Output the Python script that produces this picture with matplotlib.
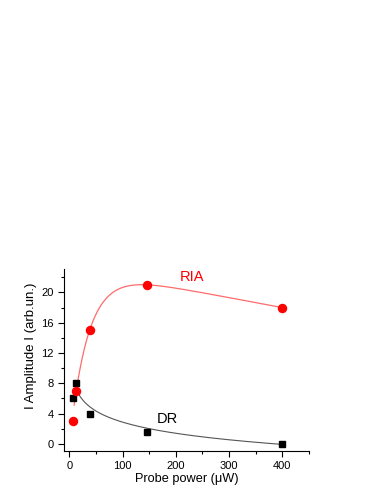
import numpy as np
import matplotlib
matplotlib.use("Agg")
import matplotlib.pyplot as plt
from matplotlib.ticker import MultipleLocator

plt.rcParams["font.family"] = ["Liberation Sans", "DejaVu Sans"]

# measured points
ria_power = [7, 13, 38, 145, 400]
ria_amp = [3, 7, 15, 21, 18]
dr_power = [7, 13, 38, 145, 400]
dr_amp = [6, 8, 4, 1.5, 0]


def fit_ria(x, y):
    # y = A*(1 - exp(-(x - x0)/t)) + B*x, grid search on t and x0
    best = None
    for t in np.linspace(10, 60, 201):
        for x0 in np.linspace(-5, 9, 57):
            M = np.column_stack([1 - np.exp(-(x - x0) / t), x])
            coef, *_ = np.linalg.lstsq(M, y, rcond=None)
            err = np.sum((M @ coef - y) ** 2)
            if best is None or err < best[0]:
                best = (err, t, x0, coef)
    _, t, x0, coef = best
    return lambda xx: coef[0] * (1 - np.exp(-(xx - x0) / t)) + coef[1] * xx


x_r = np.array(ria_power[1:], float)
y_r = np.array(ria_amp[1:], float)
ria_fit = fit_ria(x_r, y_r)

# log decay fit for DR, end point weighted
x_d = np.array(dr_power[1:], float)
y_d = np.array(dr_amp[1:], float)
dr_poly = np.polyfit(np.log(x_d), y_d, 1, w=[1, 1, 1, 3])

fig = plt.figure(figsize=(3.82, 4.94), dpi=100)
ax = fig.add_axes([0.1675, 0.087, 0.6415, 0.3685])

xx = np.linspace(9, 400, 400)
ax.plot(xx, ria_fit(xx), color="#ff6b6b", lw=0.9)
xx = np.linspace(18, 400, 400)
ax.plot(xx, np.polyval(dr_poly, np.log(xx)), color="#555555", lw=0.8)

ax.plot(dr_power, dr_amp, "s", color="black", ms=4.6, zorder=3)
ax.plot(ria_power, ria_amp, "o", color="red", ms=5.8, zorder=4)

ax.text(231, 22.0, "RIA", color="red", fontsize=10.5, ha="center", va="center")
ax.text(185, 3.3, "DR", color="black", fontsize=10.5, ha="center", va="center")

ax.set_xlim(-10, 450)
ax.set_ylim(-0.95, 23.1)
ax.xaxis.set_major_locator(MultipleLocator(100))
ax.xaxis.set_minor_locator(MultipleLocator(50))
ax.yaxis.set_major_locator(MultipleLocator(4))
ax.yaxis.set_minor_locator(MultipleLocator(2))
ax.tick_params(which="major", direction="out", length=4, width=0.8, labelsize=8)
ax.tick_params(which="minor", direction="out", length=2, width=0.8)
for s in ["top", "right"]:
    ax.spines[s].set_visible(False)

ax.set_xlabel("Probe power (\u03bcW)", fontsize=9.2, labelpad=1)
ax.set_ylabel("I Amplitude I (arb.un.)", fontsize=9.5)
ax.yaxis.set_label_coords(-0.11, 0.58)

fig.savefig("out.png", dpi=100)
